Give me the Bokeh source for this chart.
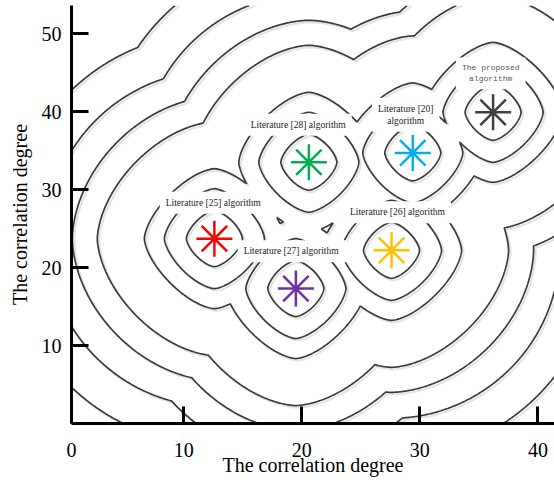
import numpy as np
from bokeh.plotting import figure
from bokeh.models import Label, Range1d, FixedTicker
from bokeh.embed import file_html
from bokeh.resources import INLINE

# ---- data ----
algorithms = ["Literature [25] algorithm", "Literature [27]  algorithm", "Literature [28] algorithm",
              "Literature [20]\nalgorithm", "Literature [26] algorithm", "The proposed\nalgorithm"]
center_x = [12.6, 19.5, 20.6, 29.4, 27.6, 36.2]
center_y = [23.7, 17.3, 33.5, 34.7, 22.2, 39.9]
star_colors = ["#FF0000", "#7030A0", "#00B050", "#00B0F0", "#FFC000", "#404040"]
label_x = [12.5, 19.2, 19.7, 28.8, 28.1, 36.0]
label_y = [28.3, 22.1, 38.3, 39.6, 27.1, 44.9]
levels = [28, 50, 70, 117, 142, 168, 206]
x_ticks = [0.5, 10, 20, 30, 40]
x_tick_labels = {0.5: "0"}
y_ticks = [10, 20, 30, 40, 50]

SX, SY = 11.8, 7.8  # screen pixels per data unit

p = figure(width=554, height=483, output_backend="svg", toolbar_location=None,
           x_range=Range1d(0.5, 41.4), y_range=Range1d(0, 53.6),
           min_border_left=71, min_border_right=0, min_border_top=5, min_border_bottom=60)
p.outline_line_color = None
p.grid.visible = False
p.background_fill_color = "white"

xs = np.linspace(0.5, 41.4, 520)
ys = np.linspace(0, 53.6, 600)
X, Y = np.meshgrid(xs, ys)


def field(ox=0.0, oy=0.0):
    Z = np.full(X.shape, np.inf)
    for x0, y0 in zip(center_x, center_y):
        ax = np.abs(X - x0 - ox) * SX
        ay = np.abs(Y - y0 - oy) * SY
        d15 = (ax ** 1.5 + ay ** 1.5) ** (1 / 1.5)
        d2 = np.hypot(ax, ay)
        w = np.clip(1 - (d2 - 60) / 110, 0, 1)
        Z = np.minimum(Z, w * d15 + (1 - w) * d2)
    return Z


# soft shadow, then the contour lines
p.contour(xs, ys, field(2 / SX, -2 / SY), levels, line_color="#e4e4e4", line_width=2.2)
p.contour(xs, ys, field(), levels, line_color="#3a3a3a", line_width=1.7)

p.scatter(center_x, center_y, marker="asterisk", size=36, line_color=star_colors, line_width=2.5)

for i, (t, lx, ly) in enumerate(zip(algorithms, label_x, label_y)):
    proposed = i == 5
    p.add_layout(Label(x=lx, y=ly, text=t, text_align="center", text_baseline="middle",
                       text_font="Liberation Mono" if proposed else "Liberation Serif",
                       text_font_size="8px" if proposed else "9.5px",
                       text_color="#555555" if proposed else "#222222",
                       background_fill_color="white", padding=6))

for ax, ticks in ((p.xaxis[0], x_ticks), (p.yaxis[0], y_ticks)):
    ax.ticker = FixedTicker(ticks=ticks)
    ax.axis_line_width = 3
    ax.major_tick_line_width = 3
    ax.major_tick_in = 17
    ax.major_tick_out = 0
    ax.minor_tick_line_color = None
    ax.major_label_text_font = "Liberation Serif"
    ax.major_label_text_font_size = "20px"
    ax.major_label_text_color = "black"
    ax.axis_label = "The correlation degree"
    ax.axis_label_text_font = "Liberation Serif"
    ax.axis_label_text_font_size = "20px"
    ax.axis_label_text_font_style = "normal"
    ax.axis_label_text_color = "black"

p.xaxis.major_label_overrides = x_tick_labels
p.xaxis.major_label_standoff = 19
p.xaxis.axis_label_standoff = -6
p.yaxis.major_label_standoff = 10
p.yaxis.axis_label_standoff = 8

open("out.html", "w").write(file_html(p, INLINE))
